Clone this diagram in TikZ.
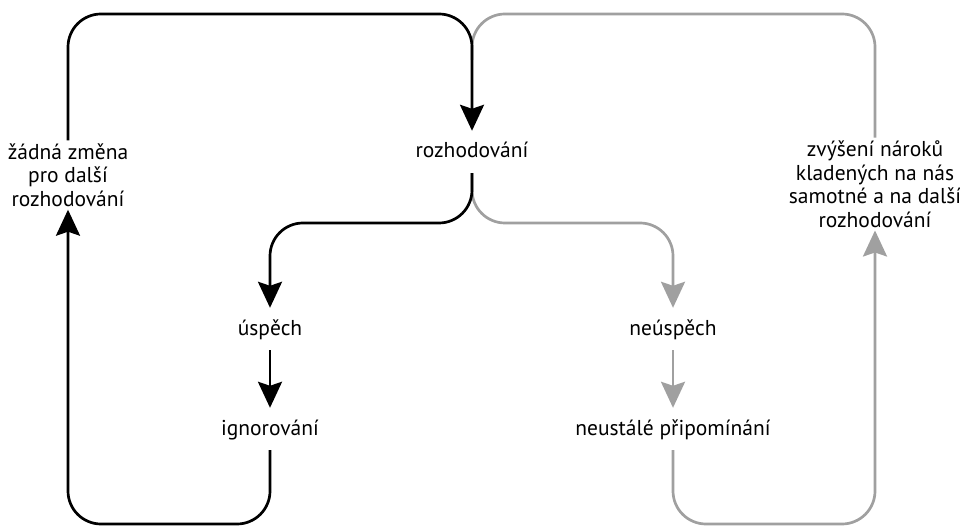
\documentclass[tikz,border=0pt]{standalone}
\usepackage{fontspec}
\setmainfont{PT Sans}
\usetikzlibrary{arrows.meta}
\definecolor{lightline}{RGB}{160,160,160}
\begin{document}
\begin{tikzpicture}
[x=1pt,y=-1pt,
word/.style={font=\fontsize{21.5}{23.5}\selectfont,text height=17pt,text depth=5pt,inner xsep=2pt,inner ysep=10pt},
words/.style={font=\fontsize{21.5}{23.5}\selectfont,align=center,inner xsep=2pt,inner ysep=3pt},
dark/.style={draw=black,line width=2.7pt,rounded corners=33pt},
pale/.style={draw=lightline,line width=2.7pt,rounded corners=33pt},
tip/.style={-{Stealth[length=26pt,width=24pt,inset=4pt]}}]
\useasboundingbox (0,0) rectangle (960,526);
\node[word] (dec) at (472,152) {rozhodování};
\node[word] (succ) at (270,329) {úspěch};
\node[word] (ign) at (270,429) {ignorování};
\node[word] (fail) at (673,329) {neúspěch};
\node[word] (remind) at (673,429) {neustálé připomínání};
\node[words] (nochg) at (68,175) {žádná změna\\pro další\\rozhodování};
\node[words] (incr) at (875,184) {zvýšení nároků\\kladených na nás\\samotné a na další\\rozhodování};
\coordinate (top) at (472,14);
\coordinate (split) at (472,60);
\coordinate (fork) at (472,223);
\coordinate (bot) at (472,524);
\draw[pale] (split) -- (top) -| (incr.north);
\draw[pale,tip] (dec.south) -- (fork) -| (fail.north);
\draw[pale,tip] (fail) -- (remind);
\draw[pale,tip] (remind.south) |- (bot -| incr.south) -- (incr.south);
\draw[dark,tip] (nochg.north) |- (top) -- (dec.north);
\draw[dark,tip] (dec.south) -- (fork) -| (succ.north);
\draw[dark,tip] (succ) -- (ign);
\draw[dark,tip] (ign.south) |- (bot -| nochg.south) -- (nochg.south);
\end{tikzpicture}
\end{document}
